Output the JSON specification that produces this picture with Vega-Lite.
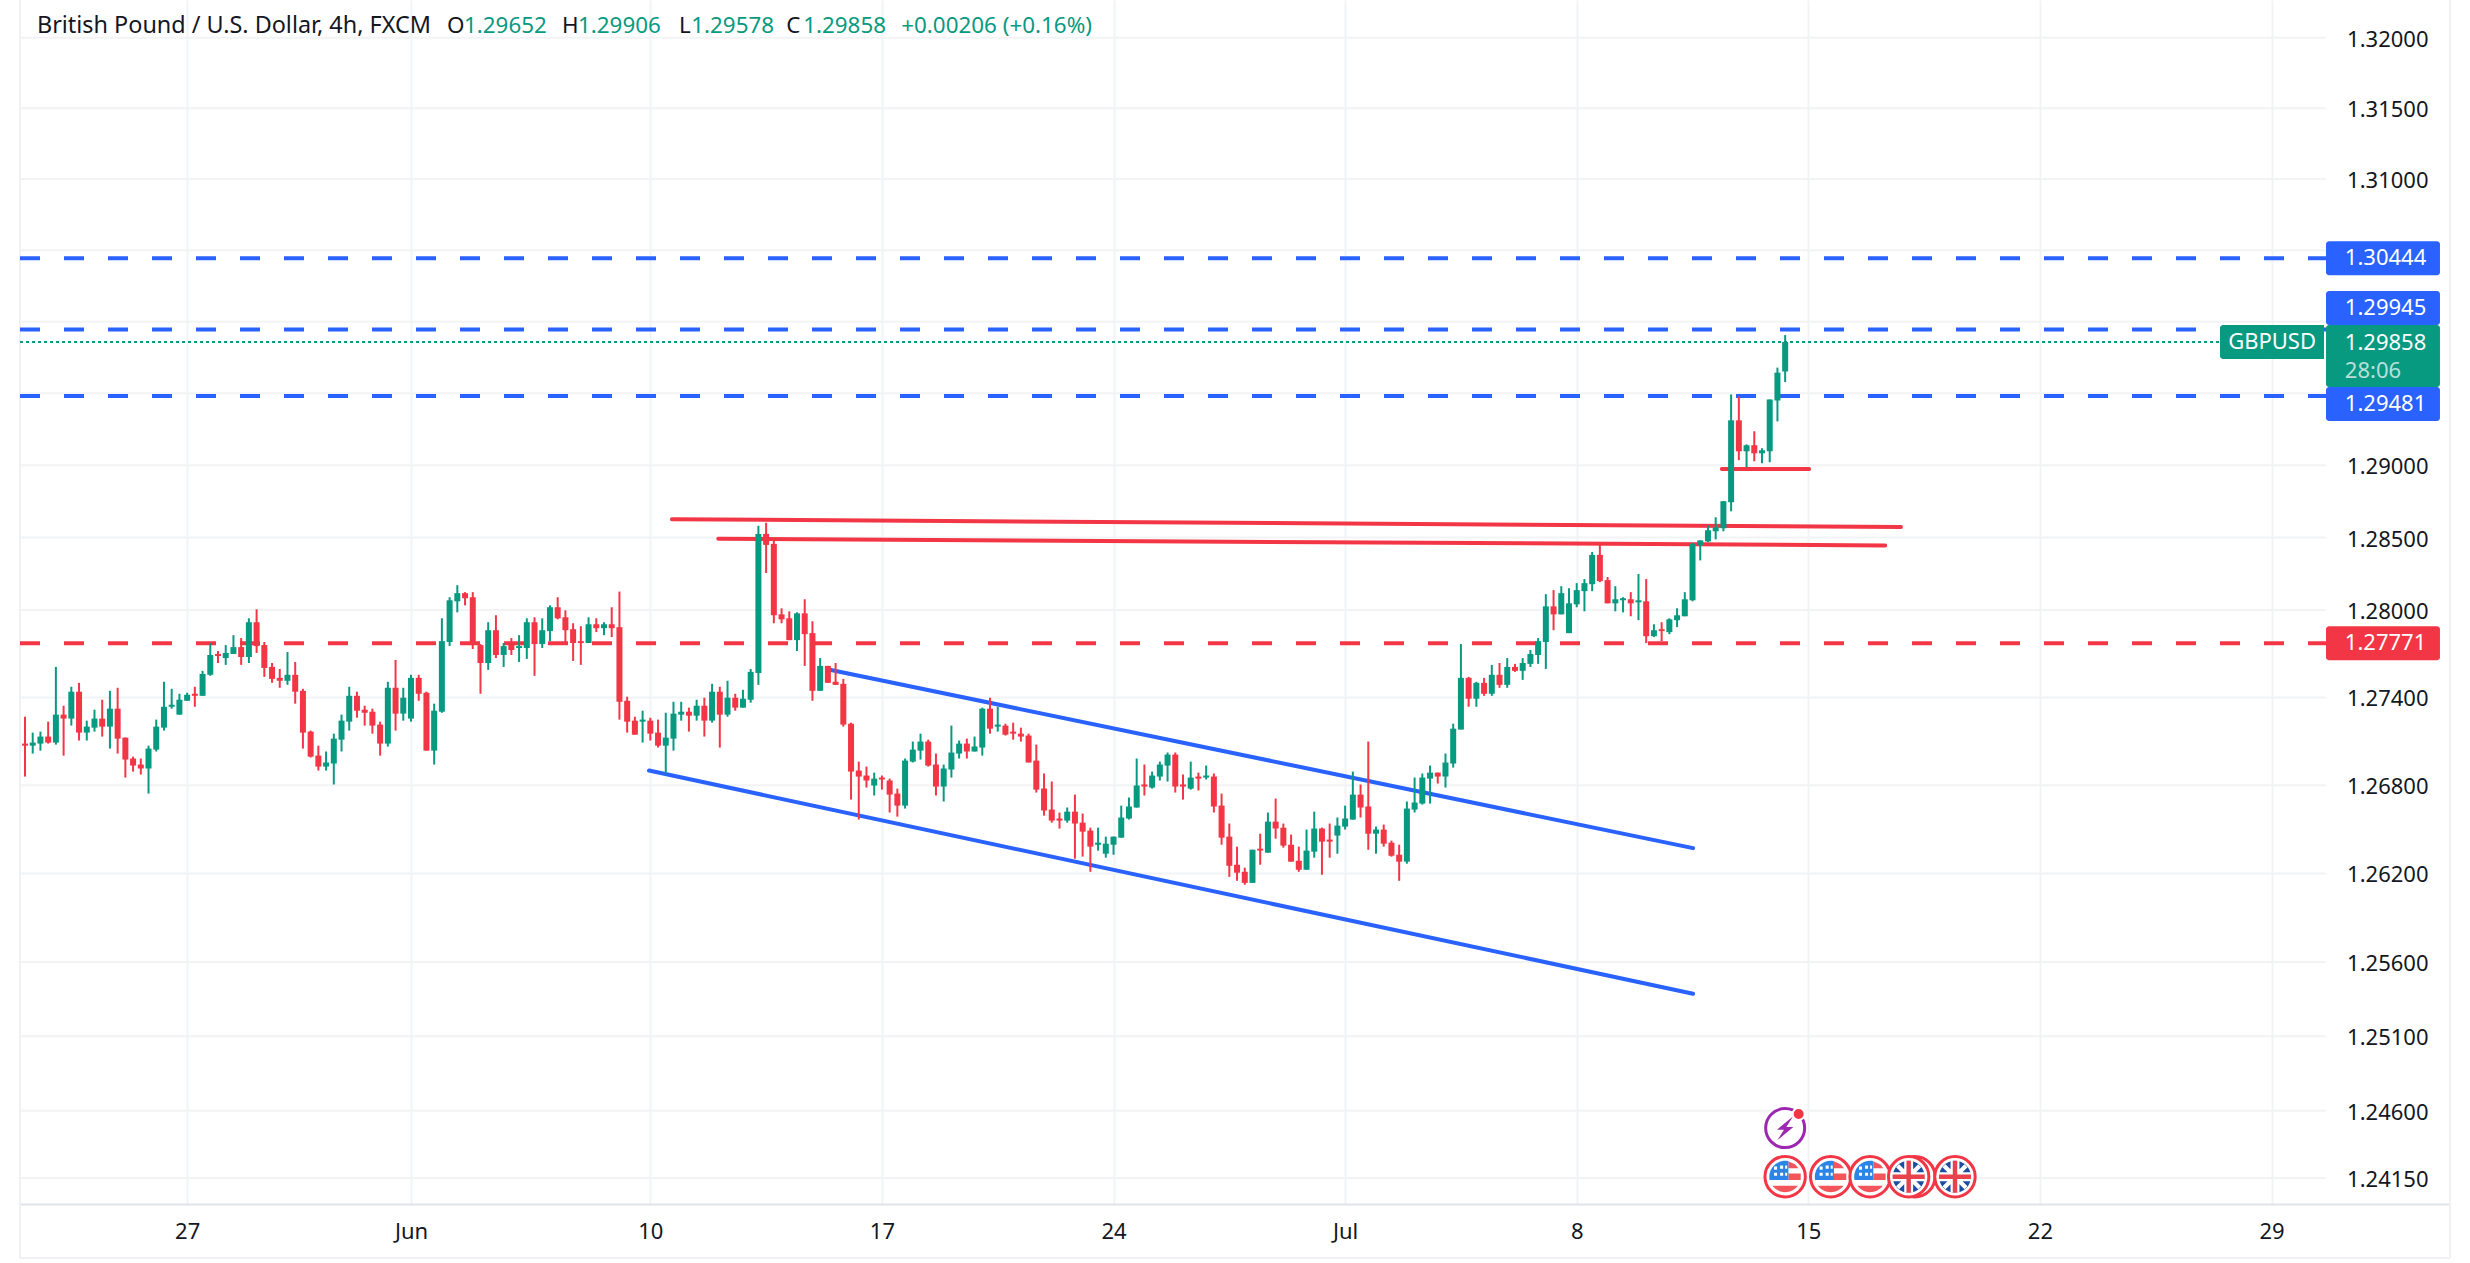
{
"$schema":"https://vega.github.io/schema/vega-lite/v6.json",
"width":2430,"height":1204,
"autosize":{"type":"none"},
"padding":{"left":20,"top":0,"right":20,"bottom":59},
"background":"#ffffff",
"config":{"view":{"stroke":null},"font":"Noto Sans","text":{"font":"Noto Sans"}},
"datasets":{
"levels":[{"p":1.32},{"p":1.315},{"p":1.31},{"p":1.305},{"p":1.3},{"p":1.295},{"p":1.29},{"p":1.285},{"p":1.28},{"p":1.274},{"p":1.268},{"p":1.262},{"p":1.256},{"p":1.251},{"p":1.246},{"p":1.2415}],
"dashed":[{"p":1.30444,"tone":"blue"},{"p":1.29945,"tone":"blue"},{"p":1.29481,"tone":"blue"},{"p":1.27771,"tone":"red"}],
"trend":[
{"id":"a","n":105.4,"p":1.27588,"tone":"blue"},{"id":"a","n":217.07,"p":1.26372,"tone":"blue"},
{"id":"b","n":81.83,"p":1.269,"tone":"blue"},{"id":"b","n":217.07,"p":1.25386,"tone":"blue"},
{"id":"c","n":84.8,"p":1.28626,"tone":"red"},{"id":"c","n":244,"p":1.28572,"tone":"red"},
{"id":"d","n":90.8,"p":1.28492,"tone":"red"},{"id":"d","n":241.96,"p":1.28445,"tone":"red"},
{"id":"e","n":220.8,"p":1.28974,"tone":"red"},{"id":"e","n":232.1,"p":1.28974,"tone":"red"}
],
"boxes":[
{"label":"1.30444","at":1.30444,"tone":"blue"},
{"label":"1.29945","at":1.30095,"tone":"blue"},
{"label":"1.29481","at":1.29426,"tone":"blue"},
{"label":"1.27771","at":1.27771,"tone":"red"}
],
"header":[
{"n":55.66,"text":"O","tone":"ink"},{"n":57.86,"text":"1.29652","tone":"green"},
{"n":70.56,"text":"H","tone":"ink"},{"n":72.63,"text":"1.29906","tone":"green"},
{"n":85.7,"text":"L","tone":"ink"},{"n":87.3,"text":"1.29578","tone":"green"},
{"n":99.6,"text":"C","tone":"ink"},{"n":101.8,"text":"1.29858","tone":"green"},
{"n":114.5,"text":"+0.00206 (+0.16%)","tone":"green"}
],
"disks":[{"n":229},{"n":234.9},{"n":240},{"n":245.8},{"n":245},{"n":251}],
"us":[{"n":229},{"n":234.9},{"n":240}],
"uk":[{"n":245},{"n":251}],
"candles":[
{"n":1,"o":1.27084,"h":1.27268,"l":1.26859,"c":1.2707},
{"n":2,"o":1.2707,"h":1.27159,"l":1.27016,"c":1.27091},
{"n":3,"o":1.27084,"h":1.27166,"l":1.27036,"c":1.27132},
{"n":4,"o":1.27132,"h":1.27234,"l":1.27084,"c":1.27091},
{"n":5,"o":1.27091,"h":1.27609,"l":1.27077,"c":1.27282},
{"n":6,"o":1.27282,"h":1.27343,"l":1.27002,"c":1.27255},
{"n":7,"o":1.27255,"h":1.27473,"l":1.27207,"c":1.27439},
{"n":8,"o":1.27439,"h":1.275,"l":1.27105,"c":1.27159},
{"n":9,"o":1.27159,"h":1.27241,"l":1.27105,"c":1.272},
{"n":10,"o":1.27193,"h":1.27316,"l":1.27166,"c":1.27255},
{"n":11,"o":1.27255,"h":1.27384,"l":1.27132,"c":1.272},
{"n":12,"o":1.272,"h":1.27445,"l":1.2705,"c":1.27323},
{"n":13,"o":1.27323,"h":1.27466,"l":1.27016,"c":1.27118},
{"n":14,"o":1.27125,"h":1.27125,"l":1.26852,"c":1.26975},
{"n":15,"o":1.26982,"h":1.26995,"l":1.26893,"c":1.26934},
{"n":16,"o":1.26941,"h":1.26982,"l":1.26873,"c":1.26914},
{"n":17,"o":1.26914,"h":1.2707,"l":1.26743,"c":1.2705},
{"n":18,"o":1.27043,"h":1.27248,"l":1.2703,"c":1.272},
{"n":19,"o":1.27193,"h":1.27507,"l":1.27173,"c":1.27336},
{"n":20,"o":1.27336,"h":1.27459,"l":1.27323,"c":1.2735},
{"n":21,"o":1.27282,"h":1.27425,"l":1.27282,"c":1.27384},
{"n":22,"o":1.27377,"h":1.27432,"l":1.27377,"c":1.27418},
{"n":23,"o":1.27425,"h":1.27473,"l":1.27336,"c":1.27411},
{"n":24,"o":1.27411,"h":1.27582,"l":1.27411,"c":1.27561},
{"n":25,"o":1.27555,"h":1.27773,"l":1.27548,"c":1.27691},
{"n":26,"o":1.27698,"h":1.27718,"l":1.27636,"c":1.27684},
{"n":27,"o":1.2767,"h":1.27759,"l":1.27623,"c":1.27705},
{"n":28,"o":1.27698,"h":1.27827,"l":1.27698,"c":1.27745},
{"n":29,"o":1.27745,"h":1.27807,"l":1.27623,"c":1.27677},
{"n":30,"o":1.27677,"h":1.27943,"l":1.27636,"c":1.27916},
{"n":31,"o":1.27916,"h":1.28005,"l":1.27705,"c":1.27752},
{"n":32,"o":1.27759,"h":1.2778,"l":1.27541,"c":1.27602},
{"n":33,"o":1.27609,"h":1.27636,"l":1.275,"c":1.27527},
{"n":34,"o":1.27534,"h":1.27595,"l":1.27466,"c":1.27514},
{"n":35,"o":1.27514,"h":1.27711,"l":1.27486,"c":1.27555},
{"n":36,"o":1.27555,"h":1.27643,"l":1.27357,"c":1.27439},
{"n":37,"o":1.27445,"h":1.27459,"l":1.2705,"c":1.27159},
{"n":38,"o":1.27166,"h":1.27173,"l":1.26989,"c":1.26995},
{"n":39,"o":1.27002,"h":1.2707,"l":1.269,"c":1.26927},
{"n":40,"o":1.26927,"h":1.2703,"l":1.269,"c":1.26955},
{"n":41,"o":1.26948,"h":1.27152,"l":1.26805,"c":1.27118},
{"n":42,"o":1.27111,"h":1.27282,"l":1.2703,"c":1.27241},
{"n":43,"o":1.27234,"h":1.27473,"l":1.27173,"c":1.27411},
{"n":44,"o":1.27411,"h":1.27439,"l":1.27261,"c":1.27309},
{"n":45,"o":1.27316,"h":1.27343,"l":1.27207,"c":1.27295},
{"n":46,"o":1.27302,"h":1.27323,"l":1.27152,"c":1.27207},
{"n":47,"o":1.27214,"h":1.27234,"l":1.27002,"c":1.27084},
{"n":48,"o":1.27084,"h":1.27507,"l":1.27064,"c":1.27466},
{"n":49,"o":1.27466,"h":1.27657,"l":1.27173,"c":1.27289},
{"n":50,"o":1.27289,"h":1.27466,"l":1.27241,"c":1.27398},
{"n":51,"o":1.27255,"h":1.27555,"l":1.27234,"c":1.27534},
{"n":52,"o":1.27534,"h":1.27555,"l":1.27377,"c":1.27425},
{"n":53,"o":1.27432,"h":1.27439,"l":1.27036,"c":1.27036},
{"n":54,"o":1.27036,"h":1.27357,"l":1.26941,"c":1.27309},
{"n":55,"o":1.27302,"h":1.27943,"l":1.27295,"c":1.27786},
{"n":56,"o":1.2778,"h":1.28088,"l":1.27752,"c":1.28067},
{"n":57,"o":1.2806,"h":1.28171,"l":1.27984,"c":1.28116},
{"n":58,"o":1.28116,"h":1.28123,"l":1.28032,"c":1.28081},
{"n":59,"o":1.28088,"h":1.28123,"l":1.27732,"c":1.27759},
{"n":60,"o":1.27759,"h":1.27766,"l":1.27425,"c":1.27636},
{"n":61,"o":1.27636,"h":1.27916,"l":1.27589,"c":1.27861},
{"n":62,"o":1.27861,"h":1.27964,"l":1.2767,"c":1.27691},
{"n":63,"o":1.27691,"h":1.27773,"l":1.27609,"c":1.27752},
{"n":64,"o":1.27766,"h":1.27807,"l":1.27691,"c":1.27725},
{"n":65,"o":1.27739,"h":1.27827,"l":1.27643,"c":1.27752},
{"n":66,"o":1.27739,"h":1.27943,"l":1.27664,"c":1.27916},
{"n":67,"o":1.27916,"h":1.2795,"l":1.27548,"c":1.27766},
{"n":68,"o":1.27766,"h":1.27943,"l":1.27739,"c":1.27861},
{"n":69,"o":1.27855,"h":1.28032,"l":1.27786,"c":1.28019},
{"n":70,"o":1.28019,"h":1.28088,"l":1.27936,"c":1.27943},
{"n":71,"o":1.2795,"h":1.27998,"l":1.27766,"c":1.27861},
{"n":72,"o":1.27868,"h":1.27909,"l":1.2765,"c":1.27773},
{"n":73,"o":1.27786,"h":1.27889,"l":1.27623,"c":1.27773},
{"n":74,"o":1.27773,"h":1.2795,"l":1.27773,"c":1.27902},
{"n":75,"o":1.27902,"h":1.27943,"l":1.27848,"c":1.27875},
{"n":76,"o":1.27875,"h":1.27916,"l":1.27827,"c":1.27902},
{"n":77,"o":1.27902,"h":1.28019,"l":1.27814,"c":1.27875},
{"n":78,"o":1.27882,"h":1.28127,"l":1.27248,"c":1.2737},
{"n":79,"o":1.27377,"h":1.27405,"l":1.27159,"c":1.27234},
{"n":80,"o":1.27241,"h":1.27268,"l":1.27145,"c":1.27145},
{"n":81,"o":1.27234,"h":1.27309,"l":1.27091,"c":1.27248},
{"n":82,"o":1.27241,"h":1.27261,"l":1.27105,"c":1.27152},
{"n":83,"o":1.27159,"h":1.27248,"l":1.27057,"c":1.2707},
{"n":84,"o":1.2707,"h":1.27295,"l":1.2688,"c":1.27125},
{"n":85,"o":1.27118,"h":1.2737,"l":1.27036,"c":1.27289},
{"n":86,"o":1.27282,"h":1.2737,"l":1.27241,"c":1.27302},
{"n":87,"o":1.27302,"h":1.2733,"l":1.27166,"c":1.27275},
{"n":88,"o":1.27275,"h":1.27384,"l":1.27241,"c":1.27343},
{"n":89,"o":1.27343,"h":1.27398,"l":1.27132,"c":1.27241},
{"n":90,"o":1.27241,"h":1.27493,"l":1.27227,"c":1.27439},
{"n":91,"o":1.27439,"h":1.27473,"l":1.27057,"c":1.27282},
{"n":92,"o":1.27282,"h":1.27514,"l":1.27268,"c":1.27398},
{"n":93,"o":1.27398,"h":1.27425,"l":1.27309,"c":1.2733},
{"n":94,"o":1.2733,"h":1.27452,"l":1.2733,"c":1.27391},
{"n":95,"o":1.27384,"h":1.27595,"l":1.27364,"c":1.27575},
{"n":96,"o":1.27568,"h":1.28581,"l":1.27486,"c":1.28525},
{"n":97,"o":1.28525,"h":1.28602,"l":1.28255,"c":1.28449},
{"n":98,"o":1.28456,"h":1.28484,"l":1.27909,"c":1.27964},
{"n":99,"o":1.2797,"h":1.28012,"l":1.27909,"c":1.27936},
{"n":100,"o":1.27943,"h":1.27991,"l":1.27793,"c":1.27793},
{"n":101,"o":1.27793,"h":1.27984,"l":1.27718,"c":1.27977},
{"n":102,"o":1.27977,"h":1.28074,"l":1.27616,"c":1.27834},
{"n":103,"o":1.27841,"h":1.27923,"l":1.27377,"c":1.27445},
{"n":104,"o":1.27445,"h":1.2767,"l":1.27445,"c":1.27616},
{"n":105,"o":1.27616,"h":1.27616,"l":1.275,"c":1.275},
{"n":106,"o":1.27507,"h":1.27636,"l":1.27486,"c":1.27486},
{"n":107,"o":1.27493,"h":1.27527,"l":1.272,"c":1.27214},
{"n":108,"o":1.2722,"h":1.27227,"l":1.26702,"c":1.26893},
{"n":109,"o":1.269,"h":1.26961,"l":1.26566,"c":1.26859},
{"n":110,"o":1.26866,"h":1.26927,"l":1.26784,"c":1.26832},
{"n":111,"o":1.26798,"h":1.26886,"l":1.2673,"c":1.26845},
{"n":112,"o":1.26852,"h":1.26866,"l":1.2677,"c":1.26839},
{"n":113,"o":1.26832,"h":1.26845,"l":1.26614,"c":1.26736},
{"n":114,"o":1.26743,"h":1.26777,"l":1.26586,"c":1.26661},
{"n":115,"o":1.26661,"h":1.26982,"l":1.26641,"c":1.26968},
{"n":116,"o":1.26961,"h":1.27098,"l":1.26955,"c":1.27043},
{"n":117,"o":1.27036,"h":1.27152,"l":1.26975,"c":1.27098},
{"n":118,"o":1.27098,"h":1.27111,"l":1.26927,"c":1.26934},
{"n":119,"o":1.26941,"h":1.27016,"l":1.2673,"c":1.26791},
{"n":120,"o":1.26791,"h":1.26941,"l":1.26689,"c":1.26914},
{"n":121,"o":1.26907,"h":1.27207,"l":1.26852,"c":1.27023},
{"n":122,"o":1.27016,"h":1.27105,"l":1.26982,"c":1.27084},
{"n":123,"o":1.27084,"h":1.27118,"l":1.26982,"c":1.2703},
{"n":124,"o":1.2703,"h":1.27132,"l":1.2703,"c":1.27064},
{"n":125,"o":1.27057,"h":1.2733,"l":1.27002,"c":1.27323},
{"n":126,"o":1.27323,"h":1.27398,"l":1.27152,"c":1.27186},
{"n":127,"o":1.272,"h":1.27336,"l":1.27166,"c":1.27214},
{"n":128,"o":1.27207,"h":1.2722,"l":1.27139,"c":1.27145},
{"n":129,"o":1.27166,"h":1.27227,"l":1.27111,"c":1.27152},
{"n":130,"o":1.27152,"h":1.27193,"l":1.27098,"c":1.27132},
{"n":131,"o":1.27139,"h":1.27152,"l":1.26955,"c":1.26955},
{"n":132,"o":1.26968,"h":1.27077,"l":1.2675,"c":1.2677},
{"n":133,"o":1.26777,"h":1.2688,"l":1.26593,"c":1.26627},
{"n":134,"o":1.26634,"h":1.26825,"l":1.26545,"c":1.26559},
{"n":135,"o":1.26573,"h":1.26614,"l":1.26505,"c":1.26559},
{"n":136,"o":1.26559,"h":1.26648,"l":1.26545,"c":1.2662},
{"n":137,"o":1.2662,"h":1.26736,"l":1.263,"c":1.26539},
{"n":138,"o":1.26545,"h":1.26607,"l":1.26314,"c":1.26484},
{"n":139,"o":1.26491,"h":1.26511,"l":1.26211,"c":1.26382},
{"n":140,"o":1.26395,"h":1.26511,"l":1.26355,"c":1.26409},
{"n":141,"o":1.26334,"h":1.2645,"l":1.26307,"c":1.26402},
{"n":142,"o":1.26395,"h":1.2645,"l":1.26327,"c":1.2645},
{"n":143,"o":1.26443,"h":1.26661,"l":1.26443,"c":1.2658},
{"n":144,"o":1.26573,"h":1.26716,"l":1.26566,"c":1.26655},
{"n":145,"o":1.26648,"h":1.26982,"l":1.26648,"c":1.26798},
{"n":146,"o":1.26805,"h":1.26941,"l":1.2673,"c":1.26791},
{"n":147,"o":1.26784,"h":1.26893,"l":1.26777,"c":1.26866},
{"n":148,"o":1.26859,"h":1.26961,"l":1.26832,"c":1.26941},
{"n":149,"o":1.26934,"h":1.27023,"l":1.26825,"c":1.27009},
{"n":150,"o":1.27009,"h":1.27023,"l":1.2675,"c":1.26791},
{"n":151,"o":1.26805,"h":1.26873,"l":1.26702,"c":1.26791},
{"n":152,"o":1.26777,"h":1.26961,"l":1.2677,"c":1.26852},
{"n":153,"o":1.26859,"h":1.26886,"l":1.26764,"c":1.26845},
{"n":154,"o":1.26852,"h":1.26934,"l":1.26839,"c":1.26866},
{"n":155,"o":1.26859,"h":1.2688,"l":1.26614,"c":1.26655},
{"n":156,"o":1.26661,"h":1.26743,"l":1.26395,"c":1.26443},
{"n":157,"o":1.2645,"h":1.26539,"l":1.26177,"c":1.26252},
{"n":158,"o":1.26259,"h":1.26382,"l":1.2615,"c":1.26205},
{"n":159,"o":1.26211,"h":1.26239,"l":1.26123,"c":1.26136},
{"n":160,"o":1.26136,"h":1.26361,"l":1.26136,"c":1.26361},
{"n":161,"o":1.26368,"h":1.2647,"l":1.26259,"c":1.26355},
{"n":162,"o":1.26341,"h":1.26614,"l":1.26341,"c":1.26552},
{"n":163,"o":1.26552,"h":1.26709,"l":1.26436,"c":1.26505},
{"n":164,"o":1.26511,"h":1.26539,"l":1.26375,"c":1.26389},
{"n":165,"o":1.26395,"h":1.26464,"l":1.2628,"c":1.2628},
{"n":166,"o":1.26286,"h":1.26382,"l":1.26211,"c":1.26225},
{"n":167,"o":1.26225,"h":1.26498,"l":1.26225,"c":1.26355},
{"n":168,"o":1.26348,"h":1.2662,"l":1.26307,"c":1.26505},
{"n":169,"o":1.26505,"h":1.26511,"l":1.26191,"c":1.26416},
{"n":170,"o":1.2643,"h":1.26539,"l":1.26307,"c":1.26416},
{"n":171,"o":1.26457,"h":1.2658,"l":1.26334,"c":1.26525},
{"n":172,"o":1.26518,"h":1.26661,"l":1.26498,"c":1.26573},
{"n":173,"o":1.26566,"h":1.26893,"l":1.26566,"c":1.26736},
{"n":174,"o":1.26736,"h":1.26805,"l":1.2658,"c":1.26648},
{"n":175,"o":1.26655,"h":1.27098,"l":1.26361,"c":1.2647},
{"n":176,"o":1.2647,"h":1.26518,"l":1.26334,"c":1.26498},
{"n":177,"o":1.26498,"h":1.26532,"l":1.26382,"c":1.26402},
{"n":178,"o":1.26409,"h":1.26423,"l":1.26314,"c":1.2632},
{"n":179,"o":1.26327,"h":1.26395,"l":1.2615,"c":1.2628},
{"n":180,"o":1.2628,"h":1.26689,"l":1.26266,"c":1.26641},
{"n":181,"o":1.26634,"h":1.26852,"l":1.26614,"c":1.26682},
{"n":182,"o":1.26675,"h":1.2688,"l":1.26668,"c":1.26852},
{"n":183,"o":1.26845,"h":1.26934,"l":1.26675,"c":1.26886},
{"n":184,"o":1.26886,"h":1.26886,"l":1.26811,"c":1.26859},
{"n":185,"o":1.26859,"h":1.27016,"l":1.26784,"c":1.26955},
{"n":186,"o":1.26948,"h":1.2722,"l":1.2692,"c":1.27186},
{"n":187,"o":1.2718,"h":1.27766,"l":1.2718,"c":1.27534},
{"n":188,"o":1.27534,"h":1.27541,"l":1.27336,"c":1.27391},
{"n":189,"o":1.27391,"h":1.27507,"l":1.27336,"c":1.275},
{"n":190,"o":1.275,"h":1.27534,"l":1.27411,"c":1.27425},
{"n":191,"o":1.27425,"h":1.27623,"l":1.27411,"c":1.27555},
{"n":192,"o":1.27555,"h":1.27636,"l":1.27466,"c":1.27486},
{"n":193,"o":1.27486,"h":1.2767,"l":1.27466,"c":1.27609},
{"n":194,"o":1.27609,"h":1.2763,"l":1.27575,"c":1.27582},
{"n":195,"o":1.27582,"h":1.2767,"l":1.2752,"c":1.27636},
{"n":196,"o":1.2763,"h":1.27725,"l":1.27609,"c":1.27698},
{"n":197,"o":1.27691,"h":1.27807,"l":1.2763,"c":1.27786},
{"n":198,"o":1.2778,"h":1.28109,"l":1.27595,"c":1.28025},
{"n":199,"o":1.28025,"h":1.28137,"l":1.27861,"c":1.2797},
{"n":200,"o":1.2797,"h":1.28164,"l":1.2797,"c":1.28116},
{"n":201,"o":1.27841,"h":1.2815,"l":1.27841,"c":1.28046},
{"n":202,"o":1.28039,"h":1.28185,"l":1.28019,"c":1.28137},
{"n":203,"o":1.2813,"h":1.28213,"l":1.27991,"c":1.28185},
{"n":204,"o":1.28178,"h":1.284,"l":1.2813,"c":1.2838},
{"n":205,"o":1.2838,"h":1.28456,"l":1.28192,"c":1.28199},
{"n":206,"o":1.28206,"h":1.28227,"l":1.28046,"c":1.28046},
{"n":207,"o":1.28046,"h":1.28164,"l":1.27991,"c":1.28074},
{"n":208,"o":1.28067,"h":1.28088,"l":1.27984,"c":1.28081},
{"n":209,"o":1.28074,"h":1.28123,"l":1.27957,"c":1.28046},
{"n":210,"o":1.28053,"h":1.28248,"l":1.2793,"c":1.28067},
{"n":211,"o":1.2806,"h":1.28213,"l":1.27773,"c":1.2782},
{"n":212,"o":1.2782,"h":1.27902,"l":1.27814,"c":1.27861},
{"n":213,"o":1.27868,"h":1.27916,"l":1.27786,"c":1.27855},
{"n":214,"o":1.27848,"h":1.27943,"l":1.27834,"c":1.27936},
{"n":215,"o":1.2793,"h":1.28012,"l":1.27882,"c":1.27964},
{"n":216,"o":1.27957,"h":1.28123,"l":1.27957,"c":1.28074},
{"n":217,"o":1.28067,"h":1.28463,"l":1.2806,"c":1.28456},
{"n":218,"o":1.28446,"h":1.2848,"l":1.28342,"c":1.2848},
{"n":219,"o":1.28473,"h":1.28584,"l":1.28467,"c":1.2855},
{"n":220,"o":1.28543,"h":1.2864,"l":1.28487,"c":1.2857},
{"n":221,"o":1.28564,"h":1.28751,"l":1.28543,"c":1.28751},
{"n":222,"o":1.28744,"h":1.29492,"l":1.28681,"c":1.29312},
{"n":223,"o":1.29312,"h":1.29478,"l":1.29035,"c":1.29097},
{"n":224,"o":1.29097,"h":1.29145,"l":1.28986,"c":1.29139},
{"n":225,"o":1.29139,"h":1.29236,"l":1.29028,"c":1.29083},
{"n":226,"o":1.29083,"h":1.29118,"l":1.29014,"c":1.29104},
{"n":227,"o":1.29097,"h":1.29457,"l":1.29021,"c":1.29457},
{"n":228,"o":1.2945,"h":1.29679,"l":1.29305,"c":1.29644},
{"n":229,"o":1.29652,"h":1.29906,"l":1.29578,"c":1.29858}
]
},
"layer":[
{"data":{"name":"levels"},
 "mark":{"type":"rule","stroke":"#f2f3f5","strokeWidth":2},
 "encoding":{
  "x":{"datum":0.352,"type":"quantitative","title":null,
   "scale":{"domain":[0.352,315.12],"nice":false,"zero":false,"padding":0},
   "axis":{"values":[22,51,82,112,142,172,202,232,262,292],"format":"d",
    "labelExpr":"({'22':'27','51':'Jun','82':'10','112':'17','142':'24','172':'Jul','202':'8','232':'15','262':'22','292':'29'})[datum.value]",
    "grid":true,"gridColor":"#f2f3f5","gridWidth":2,"ticks":false,"tickSize":0,"domainColor":"#e0e3eb","domainWidth":2,
    "labelColor":"#131722","labelFontSize":22,"labelFont":"Noto Sans","labelPadding":17,"labelOverlap":false,"labelFlush":false,"title":null}},
  "x2":{"datum":299.06},
  "y":{"field":"p","type":"quantitative","title":null,
   "scale":{"type":"log","domain":[1.23977,1.322675],"nice":false,"zero":false,"padding":0},
   "axis":{"orient":"right","values":[1.32,1.315,1.31,1.29,1.285,1.28,1.274,1.268,1.262,1.256,1.251,1.246,1.2415],"format":".5f",
    "grid":false,"ticks":false,"tickSize":0,"domain":false,"labelAlign":"right","labelPadding":-22,"labelOffset":1.5,
    "labelColor":"#131722","labelFontSize":22,"labelFont":"Noto Sans","labelOverlap":false,"labelFlush":false,"title":null}}
 }},
{"data":{"values":[{"n":0.352},{"n":315.12}]},
 "mark":{"type":"rule","stroke":"#f0f1f5","strokeWidth":2},
 "encoding":{"x":{"field":"n","type":"quantitative"},"y":{"datum":1.322675},"y2":{"datum":1.23617}}},
{"data":{"values":[{"p":1.23617}]},
 "mark":{"type":"rule","stroke":"#f0f1f5","strokeWidth":2},
 "encoding":{"x":{"datum":0.352},"x2":{"datum":315.12},"y":{"field":"p","type":"quantitative"}}},
{"data":{"name":"dashed"},
 "mark":{"type":"rule","strokeWidth":4,"strokeDash":[20,24]},
 "encoding":{"x":{"datum":0.352},"x2":{"datum":299.06},"y":{"field":"p","type":"quantitative"},
  "color":{"field":"tone","type":"nominal","legend":null,"scale":{"domain":["blue","red","green","ink"],"range":["#2962ff","#f23645","#089981","#131722"]}}}},
{"data":{"values":[{"p":1.29858}]},
 "mark":{"type":"rule","strokeWidth":2,"strokeDash":[3,3],"stroke":"#089981"},
 "encoding":{"x":{"datum":0.352},"x2":{"datum":285.33},"y":{"field":"p","type":"quantitative"}}},
{"data":{"name":"trend"},
 "mark":{"type":"line","strokeWidth":4,"strokeCap":"round"},
 "encoding":{"x":{"field":"n","type":"quantitative"},"y":{"field":"p","type":"quantitative"},"detail":{"field":"id"},
  "color":{"field":"tone","type":"nominal","legend":null}}},
{"data":{"name":"candles"},
 "mark":{"type":"rule","strokeWidth":2},
 "encoding":{"x":{"field":"n","type":"quantitative"},"y":{"field":"l","type":"quantitative"},"y2":{"field":"h"},
  "stroke":{"condition":{"test":"datum.c>=datum.o","value":"#089981"},"value":"#f23645"}}},
{"data":{"name":"candles"},
 "mark":{"type":"bar","orient":"vertical","size":6},
 "encoding":{"x":{"field":"n","type":"quantitative","scale":{"padding":0}},"y":{"field":"o","type":"quantitative"},"y2":{"field":"c"},
  "fill":{"condition":{"test":"datum.c>=datum.o","value":"#089981"},"value":"#f23645"}}},
{"data":{"name":"boxes"},
 "mark":{"type":"bar","orient":"horizontal","size":34,"cornerRadiusEnd":3},
 "encoding":{"x":{"datum":299.06},"x2":{"datum":313.82},"y":{"field":"at","type":"quantitative","scale":{"padding":0}},
  "color":{"field":"tone","type":"nominal","legend":null}}},
{"data":{"values":[{"at":1.2976}]},
 "mark":{"type":"bar","orient":"horizontal","size":62,"cornerRadiusEnd":3,"fill":"#089981"},
 "encoding":{"x":{"datum":299.06},"x2":{"datum":313.82},"y":{"field":"at","type":"quantitative","scale":{"padding":0}}}},
{"data":{"values":[{"at":1.29858}]},
 "mark":{"type":"bar","orient":"horizontal","size":34,"cornerRadiusTopLeft":3,"cornerRadiusBottomLeft":3,"fill":"#089981"},
 "encoding":{"x":{"datum":285.33},"x2":{"datum":298.8},"y":{"field":"at","type":"quantitative","scale":{"padding":0}}}},
{"data":{"name":"boxes"},
 "mark":{"type":"text","align":"left","baseline":"middle","font":"Noto Sans","fontSize":22,"fill":"#ffffff"},
 "encoding":{"x":{"datum":301.5},"y":{"field":"at","type":"quantitative"},"text":{"field":"label"}}},
{"data":{"values":[{"at":1.29853,"label":"1.29858"}]},
 "mark":{"type":"text","align":"left","baseline":"middle","font":"Noto Sans","fontSize":22,"fill":"#ffffff"},
 "encoding":{"x":{"datum":301.5},"y":{"field":"at","type":"quantitative"},"text":{"field":"label"}}},
{"data":{"values":[{"at":1.29655,"label":"28:06"}]},
 "mark":{"type":"text","align":"left","baseline":"middle","font":"Noto Sans","fontSize":22,"fill":"#ffffff","opacity":0.7},
 "encoding":{"x":{"datum":301.5},"y":{"field":"at","type":"quantitative"},"text":{"field":"label"}}},
{"data":{"values":[{"at":1.29858,"label":"GBPUSD"}]},
 "mark":{"type":"text","align":"center","baseline":"middle","font":"Noto Sans","fontSize":22,"fill":"#ffffff"},
 "encoding":{"x":{"datum":292.07},"y":{"field":"at","type":"quantitative"},"text":{"field":"label"}}},
{"data":{"values":[{"n":2.55,"label":"British Pound / U.S. Dollar, 4h, FXCM"}]},
 "mark":{"type":"text","align":"left","baseline":"middle","font":"Noto Sans","fontSize":23.4,"fill":"#131722"},
 "encoding":{"x":{"field":"n","type":"quantitative"},"y":{"datum":1.32083},"text":{"field":"label"}}},
{"data":{"name":"header"},
 "mark":{"type":"text","align":"left","baseline":"middle","font":"Noto Sans","fontSize":22.4},
 "encoding":{"x":{"field":"n","type":"quantitative"},"y":{"datum":1.32083},"text":{"field":"text"},
  "color":{"field":"tone","type":"nominal","legend":null}}},
{"data":{"values":[{"n":229}]},
 "mark":{"type":"point","shape":"circle","filled":true,"fill":"#ffffff","stroke":"#9c27b0","strokeWidth":3,"size":1521,"opacity":1},
 "encoding":{"x":{"field":"n","type":"quantitative"},"y":{"datum":1.24484}}},
{"data":{"values":[{"n":229}]},
 "mark":{"type":"point","shape":"M.4 -.6L-.42 .08L-.06 .08L-.4 .62L.42 -.06L.06 -.06Z","filled":true,"fill":"#9c27b0","strokeWidth":0,"size":1521,"opacity":1},
 "encoding":{"x":{"field":"n","type":"quantitative"},"y":{"datum":1.24484}}},
{"data":{"values":[{"n":230.75}]},
 "mark":{"type":"point","shape":"circle","filled":true,"fill":"#f23645","stroke":"#ffffff","strokeWidth":2,"size":144,"opacity":1},
 "encoding":{"x":{"field":"n","type":"quantitative"},"y":{"datum":1.24578}}},
{"data":{"name":"disks"},
 "mark":{"type":"point","shape":"circle","filled":true,"fill":"#ffffff","stroke":"#f23645","strokeWidth":3,"size":1632,"opacity":1},
 "encoding":{"x":{"field":"n","type":"quantitative"},"y":{"datum":1.24159}}},
{"data":{"name":"us"},
 "mark":{"type":"point","shape":"M.16 -.16L.77 -.16L.77 .16L.16 .16ZM-.63 .45L.63 .45A.79 .79 0 0 1 -.63 .45ZM.16 -.77L.5 -.6L.66 -.42L.16 -.42Z","filled":true,"fill":"#f2565a","strokeWidth":0,"size":1632,"opacity":1},
 "encoding":{"x":{"field":"n","type":"quantitative"},"y":{"datum":1.24159}}},
{"data":{"name":"us"},
 "mark":{"type":"point","shape":"M.16 .16L-.77 .16A.79 .79 0 0 1 .16 -.77Z","filled":true,"fill":"#2b85e8","strokeWidth":0,"size":1632,"opacity":1},
 "encoding":{"x":{"field":"n","type":"quantitative"},"y":{"datum":1.24159}}},
{"data":{"name":"us"},
 "mark":{"type":"point","shape":"M-.55 -.2h.15v.15h-.15zM-.25 -.2h.15v.15h-.15zM.0 -.2h.1v.15h-.1zM-.55 -.5h.15v.15h-.15zM-.25 -.55h.15v.15h-.15zM.0 -.55h.1v.15h-.1z","filled":true,"fill":"#ffffff","strokeWidth":0,"size":1632,"opacity":1},
 "encoding":{"x":{"field":"n","type":"quantitative"},"y":{"datum":1.24159}}},
{"data":{"name":"uk"},
 "mark":{"type":"point","shape":"M-.79 0A.79 .79 0 1 1 .79 0A.79 .79 0 1 1 -.79 0Z","filled":true,"fill":"#1c4da1","strokeWidth":0,"size":1632,"opacity":1},
 "encoding":{"x":{"field":"n","type":"quantitative"},"y":{"datum":1.24159}}},
{"data":{"name":"uk"},
 "mark":{"type":"point","shape":"M-.62 -.47L-.47 -.62L.62 .47L.47 .62ZM.47 -.62L.62 -.47L-.47 .62L-.62 .47ZM-.22 -.79L.22 -.79L.22 .79L-.22 .79ZM-.79 -.22L.79 -.22L.79 .22L-.79 .22Z","filled":true,"fill":"#ffffff","strokeWidth":0,"size":1632,"opacity":1},
 "encoding":{"x":{"field":"n","type":"quantitative"},"y":{"datum":1.24159}}},
{"data":{"name":"uk"},
 "mark":{"type":"point","shape":"M-.11 -.79L.11 -.79L.11 .79L-.11 .79ZM-.79 -.11L.79 -.11L.79 .11L-.79 .11Z","filled":true,"fill":"#e8434d","strokeWidth":0,"size":1632,"opacity":1},
 "encoding":{"x":{"field":"n","type":"quantitative"},"y":{"datum":1.24159}}}
]
}
